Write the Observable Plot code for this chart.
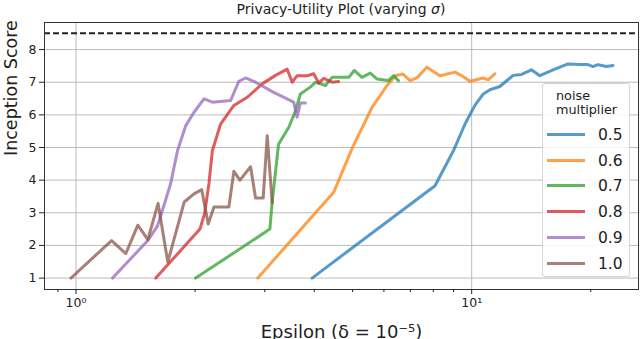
<!DOCTYPE html>
<html>
<head>
<meta charset="utf-8">
<script src="https://cdn.jsdelivr.net/npm/d3@7"></script>
<script src="https://cdn.jsdelivr.net/npm/@observablehq/plot@0.6"></script>
<style>
  html, body { margin: 0; padding: 0; background: #fff; }
  #wrap { position: relative; width: 640px; height: 339px; overflow: hidden; font-family: "DejaVu Sans", sans-serif; color: #222; }
  #title { position: absolute; top: 0px; left: 44px; width: 594px; text-align: center; font-size: 14px; line-height: 19px; }
  #chart { position: absolute; top: 20px; left: 0; }
  #legend { position: absolute; left: 542px; top: 83px; width: 88px; height: 194px; border: 1px solid #d4d4d4; border-radius: 3px; background: rgba(255,255,255,0.85); box-sizing: border-box; }
  #legend .lt { position: absolute; left: 13px; font-size: 12.8px; line-height: 14px; }
  #legend .row { position: absolute; left: 0; width: 88px; height: 20px; }
  #legend .sw { position: absolute; left: 4px; top: 8px; width: 38px; height: 3px; }
  #legend .lab { position: absolute; left: 55px; top: 0; font-size: 15.5px; line-height: 20px; }
</style>
</head>
<body>
<div id="wrap">
  <div id="title">Privacy-Utility Plot (varying <i>σ</i>)</div>
  <div id="chart"></div>
  <div id="legend"></div>
</div>
<script>
// ---- data ----
const noise = ["0.5", "0.6", "0.7", "0.8", "0.9", "1.0"];
const palette = ["#1f77b4", "#ff7f0e", "#2ca02c", "#d62728", "#9467bd", "#8c564b"];

const eps05 = [3.95, 8.08, 8.99, 9.62, 10.19, 10.7, 11.12, 11.78, 12.73, 13.37, 14.16, 14.87, 16.06, 17.52, 18.75, 19.67, 20.25, 20.85, 21.89, 22.75];
const is05  = [1.0, 3.83, 4.9, 5.72, 6.29, 6.64, 6.77, 6.87, 7.21, 7.24, 7.38, 7.2, 7.38, 7.56, 7.54, 7.54, 7.48, 7.54, 7.48, 7.51];

const eps06 = [2.88, 4.48, 4.98, 5.6, 6.11, 6.41, 6.7, 6.99, 7.3, 7.7, 8.32, 9.08, 9.44, 9.9, 10.7, 11.01, 11.45];
const is06  = [1.0, 3.63, 4.96, 6.23, 6.9, 7.2, 7.25, 7.05, 7.15, 7.46, 7.2, 7.31, 7.2, 7.03, 7.13, 7.07, 7.26];

const eps07 = [2.006, 3.09, 3.13, 3.25, 3.45, 3.59, 3.69, 3.91, 4.03, 4.15, 4.27, 4.44, 4.89, 5.05, 5.28, 5.54, 5.76, 6.16, 6.35, 6.53];
const is07  = [1.0, 2.5, 3.3, 5.1, 5.62, 6.13, 6.64, 6.85, 7.0, 6.95, 6.9, 7.15, 7.15, 7.36, 7.15, 7.28, 7.1, 7.05, 7.2, 7.05];

const eps08 = [1.591, 2.057, 2.114, 2.168, 2.211, 2.32, 2.506, 2.709, 2.955, 3.193, 3.418, 3.518, 3.622, 3.838, 3.988, 4.106, 4.227, 4.437, 4.609];
const is08  = [1.0, 2.5, 2.98, 3.9, 4.9, 5.72, 6.29, 6.54, 6.95, 7.21, 7.4, 7.0, 7.2, 7.2, 7.26, 6.98, 7.12, 7.0, 7.02];

const eps09 = [1.237, 1.521, 1.607, 1.654, 1.735, 1.805, 1.894, 1.987, 2.106, 2.211, 2.459, 2.58, 2.683, 2.843, 3.16, 3.55, 3.62, 3.69, 3.80];
const is09  = [1.0, 2.16, 2.6, 3.08, 3.9, 4.9, 5.67, 6.08, 6.49, 6.39, 6.44, 7.03, 7.13, 7.0, 6.69, 6.39, 5.93, 6.36, 6.36];

const eps10 = [0.971, 1.23, 1.336, 1.433, 1.519, 1.612, 1.706, 1.877, 1.987, 2.078, 2.158, 2.232, 2.434, 2.506, 2.596, 2.762, 2.843, 2.972, 3.043, 3.132];
const is10  = [1.0, 2.15, 1.75, 2.62, 2.18, 3.29, 1.49, 3.33, 3.58, 3.71, 2.66, 3.18, 3.18, 4.27, 4.0, 4.41, 3.45, 3.45, 5.36, 3.3];

const upperBound = [8.5];
const yTicks = [1, 2, 3, 4, 5, 6, 7, 8];
const xMajor = [1, 10];
const xMajorLabels = ["10⁰", "10¹"];
const xMinor = [0.9, 2, 3, 4, 5, 6, 7, 8, 9, 20];
const xLabel = "Epsilon (δ = 10⁻⁵)";
const yLabel = "Inception Score";
const legendTitle = ["noise", "multiplier"];

// ---- build rows ----
const seriesEps = [eps05, eps06, eps07, eps08, eps09, eps10];
const seriesIs = [is05, is06, is07, is08, is09, is10];
const rows = [];
noise.forEach((n, i) => seriesEps[i].forEach((e, j) => rows.push({noise: n, eps: e, score: seriesIs[i][j]})));

const chart = Plot.plot({
  width: 640,
  height: 319,
  marginTop: 2,
  marginRight: 2,
  marginBottom: 50,
  marginLeft: 44,
  x: {type: "log", domain: [0.8325, 26.4]},
  y: {domain: [0.65, 8.83]},
  color: {domain: noise, range: palette},
  style: {fontFamily: "DejaVu Sans", fontSize: "12.5px", color: "#222", background: "white", overflow: "visible"},
  marks: [
    Plot.gridY(yTicks, {stroke: "#bcbcbc", strokeOpacity: 1, strokeWidth: 1}),
    Plot.gridX(xMajor, {stroke: "#bcbcbc", strokeOpacity: 1, strokeWidth: 1}),
    Plot.ruleY(upperBound, {stroke: "#222", strokeWidth: 1.8, strokeDasharray: "6,3"}),
    Plot.line(rows, {x: "eps", y: "score", z: "noise", stroke: "noise", strokeWidth: 3, strokeOpacity: 0.75, strokeLinejoin: "round"}),
    Plot.frame({stroke: "#333", strokeWidth: 1}),
    Plot.axisY(yTicks, {tickSize: 5, tickPadding: 3, label: null}),
    Plot.axisX(xMajor, {tickSize: 5, tickPadding: 4, label: null, tickFormat: (d) => xMajorLabels[xMajor.indexOf(d)]}),
    Plot.axisX(xMinor, {tickSize: 3, label: null, tickFormat: () => ""}),
    Plot.text([yLabel], {text: d => d, frameAnchor: "left", rotate: -90, dx: -33, lineAnchor: "middle", fontSize: 17.5, fill: "#222"}),
    Plot.text([xLabel], {text: d => d, frameAnchor: "bottom", dy: 48, lineAnchor: "bottom", fontSize: 18, fill: "#222"})
  ]
});
document.getElementById("chart").appendChild(chart);

// ---- legend ----
const leg = document.getElementById("legend");
legendTitle.forEach((t, i) => {
  const d = document.createElement("div");
  d.className = "lt";
  d.style.top = (5 + i * 14) + "px";
  d.textContent = t;
  leg.appendChild(d);
});
noise.forEach((n, i) => {
  const r = document.createElement("div");
  r.className = "row";
  r.style.top = (41 + i * 25.7) + "px";
  const sw = document.createElement("div");
  sw.className = "sw";
  sw.style.background = palette[i];
  sw.style.opacity = 0.75;
  const lab = document.createElement("div");
  lab.className = "lab";
  lab.textContent = n;
  r.appendChild(sw);
  r.appendChild(lab);
  leg.appendChild(r);
});
</script>
</body>
</html>
